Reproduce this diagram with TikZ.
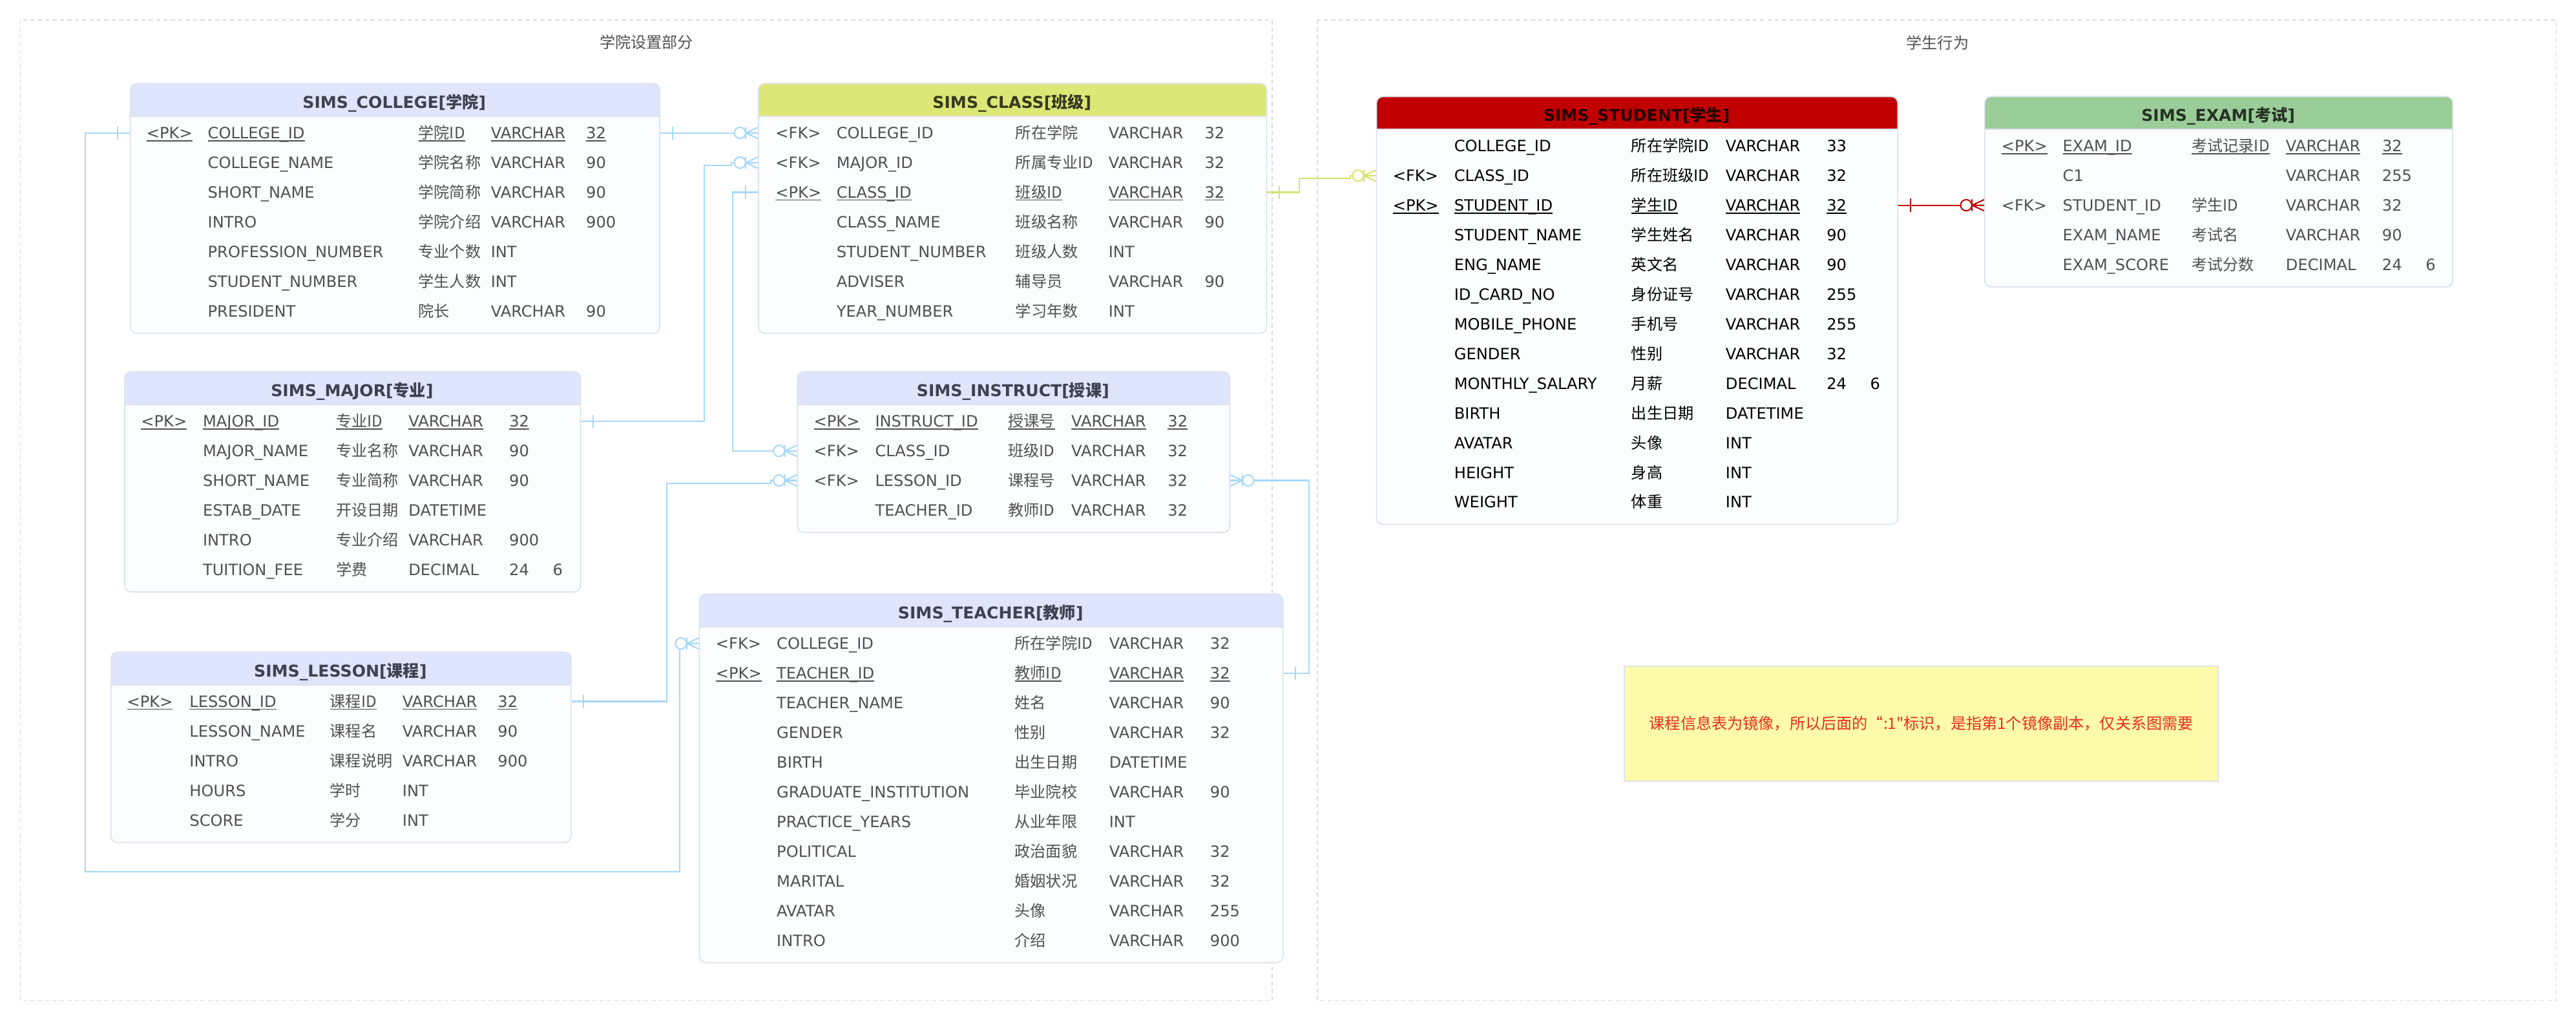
\documentclass[tikz,border=0pt]{standalone}
\usepackage{fontspec}
\setmainfont{DejaVu Sans}
\newfontfamily\cjk{Noto Sans CJK SC}
\usepackage{tikz}

\definecolor{hdrblue}{RGB}{222,229,252}
\definecolor{hdryel}{RGB}{221,231,119}
\definecolor{hdrred}{RGB}{192,0,0}
\definecolor{hdrgreen}{RGB}{155,205,152}
\definecolor{bodyfill}{RGB}{252,253,255}
\definecolor{tblborder}{RGB}{221,226,236}
\definecolor{groupline}{RGB}{214,218,226}
\definecolor{textgray}{RGB}{80,80,80}
\definecolor{titlegray}{RGB}{61,66,80}
\definecolor{relblue}{RGB}{166,216,248}
\definecolor{relyel}{RGB}{214,226,110}
\definecolor{relred}{RGB}{192,0,0}
\definecolor{notefill}{RGB}{253,250,170}
\definecolor{notetext}{RGB}{235,45,30}

\newcommand\rowfont{\fontsize{9.5pt}{11pt}\selectfont}
\newcommand\cols[4]{\def\kw{#1pt}\def\nw{#2pt}\def\cw{#3pt}\def\tw{#4pt}}
\newcommand\ul[1]{\setbox0=\hbox{#1}\rlap{\rule[-1.6pt]{\wd0}{0.7pt}}\box0}
\newcommand\fld[5]{\makebox[\kw][l]{#1}\makebox[\nw][l]{#2}\makebox[\cw][l]{\cjk #3}\makebox[\tw][l]{#4}#5}
\newcommand\pkfld[5]{\fld{\ul{#1}}{\ul{#2}}{\ul{#3}}{\ul{#4}}{\ul{#5}}}
\newcommand\dec[2]{\makebox[26.5pt][l]{#1}#2}

\tikzset{
  tbl/.style={draw=tblborder, fill=bodyfill, line width=0.7pt, rounded corners=4pt,
    inner sep=0pt, anchor=north west,
    path picture={\fill[#1, sharp corners] (path picture bounding box.north west)
      rectangle ([yshift=-20pt]path picture bounding box.north east);
      \draw[tblborder, line width=0.7pt, sharp corners] ([yshift=-20pt]path picture bounding box.north west)
      -- ([yshift=-20pt]path picture bounding box.north east);}},
  hdr/.style={anchor=center, inner sep=0pt, text height=8pt, text depth=1pt,
    font=\fontsize{9.9pt}{11pt}\selectfont\bfseries, text=titlegray},
  row/.style={anchor=west, inner sep=0pt, text height=8pt, text depth=1pt,
    font=\rowfont, text=textgray},
  group/.style={draw=groupline, dash pattern=on 2.5pt off 2pt, line width=0.7pt},
  grouptitle/.style={font=\rowfont\cjk, text=textgray, inner sep=0pt},
  note/.style={draw=tblborder, fill=notefill, text=notetext, line width=0.8pt,
    font=\rowfont\cjk},
  rel/.style={color=relblue, line width=0.8pt},
  relyel/.style={color=relyel, line width=0.8pt},
  relred/.style={color=relred, line width=0.8pt},
  pics/one/.style={code={\draw (7.4,-4) -- (7.4,4);}},
  pics/many/.style={code={
    \draw (-7.4,-3.6) -- (-7.4,3.6) (-7.4,0) -- (0,-3.4) (-7.4,0) -- (0,3.4) (-7.4,0) -- (0,0);
    \draw[fill=white] (-10.9,0) circle[radius=3.4];}}
}

\begin{document}
\begin{tikzpicture}[x=1pt, y=-1pt]
\useasboundingbox (0,0) rectangle (1568,621);

% groups
\draw[group] (12.4,12.1) rectangle (774.3,609);
\draw[group] (801.8,12.2) rectangle (1556,609);
\node (leftT) at (393.5,25.6)[grouptitle] {学院设置部分};
\node (rightT) at (1179.4,26)[grouptitle] {学生行为};

% SIMS_COLLEGE
\node (college) at (79,50.5)[tbl=hdrblue, minimum width=322.2pt, minimum height=152pt] {};
\node (collegeT) at (240,62.5)[hdr] {SIMS\_COLLEGE[{\cjk\bfseries 学院}]};
\cols{37.3}{128.2}{44.1}{58}
\node (co1) at (89,80.9)[row] {\pkfld{<PK>}{COLLEGE\_ID}{学院ID}{VARCHAR}{32}};
\node (co2) at (89,99.0)[row] {\fld{}{COLLEGE\_NAME}{学院名称}{VARCHAR}{90}};
\node (co3) at (89,117.0)[row] {\fld{}{SHORT\_NAME}{学院简称}{VARCHAR}{90}};
\node (co4) at (89,135.1)[row] {\fld{}{INTRO}{学院介绍}{VARCHAR}{900}};
\node (co5) at (89,153.2)[row] {\fld{}{PROFESSION\_NUMBER}{专业个数}{INT}{}};
\node (co6) at (89,171.3)[row] {\fld{}{STUDENT\_NUMBER}{学生人数}{INT}{}};
\node (co7) at (89,189.3)[row] {\fld{}{PRESIDENT}{院长}{VARCHAR}{90}};

% SIMS_CLASS
\node (class) at (461.3,50.5)[tbl=hdryel, minimum width=309.4pt, minimum height=152pt] {};
\node (classT) at (616,62.5)[hdr, text=black!75!hdryel] {SIMS\_CLASS[{\cjk\bfseries 班级}]};
\cols{37.1}{109}{56.6}{58.5}
\node (cl1) at (471.9,80.9)[row] {\fld{<FK>}{COLLEGE\_ID}{所在学院}{VARCHAR}{32}};
\node (cl2) at (471.9,99.0)[row] {\fld{<FK>}{MAJOR\_ID}{所属专业ID}{VARCHAR}{32}};
\node (cl3) at (471.9,117.0)[row] {\pkfld{<PK>}{CLASS\_ID}{班级ID}{VARCHAR}{32}};
\node (cl4) at (471.9,135.1)[row] {\fld{}{CLASS\_NAME}{班级名称}{VARCHAR}{90}};
\node (cl5) at (471.9,153.2)[row] {\fld{}{STUDENT\_NUMBER}{班级人数}{INT}{}};
\node (cl6) at (471.9,171.3)[row] {\fld{}{ADVISER}{辅导员}{VARCHAR}{90}};
\node (cl7) at (471.9,189.3)[row] {\fld{}{YEAR\_NUMBER}{学习年数}{INT}{}};

% SIMS_MAJOR
\node (major) at (75.6,225.9)[tbl=hdrblue, minimum width=277.4pt, minimum height=134pt] {};
\node (majorT) at (214.3,237.9)[hdr] {SIMS\_MAJOR[{\cjk\bfseries 专业}]};
\cols{37.6}{81.1}{44.1}{61.3}
\node (ma1) at (85.7,256.3)[row] {\pkfld{<PK>}{MAJOR\_ID}{专业ID}{VARCHAR}{32}};
\node (ma2) at (85.7,274.4)[row] {\fld{}{MAJOR\_NAME}{专业名称}{VARCHAR}{90}};
\node (ma3) at (85.7,292.4)[row] {\fld{}{SHORT\_NAME}{专业简称}{VARCHAR}{90}};
\node (ma4) at (85.7,310.5)[row] {\fld{}{ESTAB\_DATE}{开设日期}{DATETIME}{}};
\node (ma5) at (85.7,328.6)[row] {\fld{}{INTRO}{专业介绍}{VARCHAR}{900}};
\node (ma6) at (85.7,346.7)[row] {\fld{}{TUITION\_FEE}{学费}{DECIMAL}{\dec{24}{6}}};

% SIMS_INSTRUCT
\node (instruct) at (485.1,225.9)[tbl=hdrblue, minimum width=263.1pt, minimum height=97.8pt] {};
\node (instructT) at (616.6,237.9)[hdr] {SIMS\_INSTRUCT[{\cjk\bfseries 授课}]};
\cols{37.3}{81}{38.4}{58.7}
\node (in1) at (495.2,256.3)[row] {\pkfld{<PK>}{INSTRUCT\_ID}{授课号}{VARCHAR}{32}};
\node (in2) at (495.2,274.4)[row] {\fld{<FK>}{CLASS\_ID}{班级ID}{VARCHAR}{32}};
\node (in3) at (495.2,292.4)[row] {\fld{<FK>}{LESSON\_ID}{课程号}{VARCHAR}{32}};
\node (in4) at (495.2,310.5)[row] {\fld{}{TEACHER\_ID}{教师ID}{VARCHAR}{32}};

% SIMS_LESSON
\node (lesson) at (67.2,396.5)[tbl=hdrblue, minimum width=280pt, minimum height=115.9pt] {};
\node (lessonT) at (207.2,408.5)[hdr] {SIMS\_LESSON[{\cjk\bfseries 课程}]};
\cols{38.1}{85.5}{44.1}{58}
\node (le1) at (77.1,426.9)[row] {\pkfld{<PK>}{LESSON\_ID}{课程ID}{VARCHAR}{32}};
\node (le2) at (77.1,445.0)[row] {\fld{}{LESSON\_NAME}{课程名}{VARCHAR}{90}};
\node (le3) at (77.1,463.0)[row] {\fld{}{INTRO}{课程说明}{VARCHAR}{900}};
\node (le4) at (77.1,481.1)[row] {\fld{}{HOURS}{学时}{INT}{}};
\node (le5) at (77.1,499.2)[row] {\fld{}{SCORE}{学分}{INT}{}};

% SIMS_TEACHER
\node (teacher) at (425.4,361.2)[tbl=hdrblue, minimum width=355.2pt, minimum height=224.3pt] {};
\node (teacherT) at (603,373.2)[hdr] {SIMS\_TEACHER[{\cjk\bfseries 教师}]};
\cols{37.1}{144.9}{57.5}{61.4}
\node (te1) at (435.5,391.6)[row] {\fld{<FK>}{COLLEGE\_ID}{所在学院ID}{VARCHAR}{32}};
\node (te2) at (435.5,409.7)[row] {\pkfld{<PK>}{TEACHER\_ID}{教师ID}{VARCHAR}{32}};
\node (te3) at (435.5,427.7)[row] {\fld{}{TEACHER\_NAME}{姓名}{VARCHAR}{90}};
\node (te4) at (435.5,445.8)[row] {\fld{}{GENDER}{性别}{VARCHAR}{32}};
\node (te5) at (435.5,463.9)[row] {\fld{}{BIRTH}{出生日期}{DATETIME}{}};
\node (te6) at (435.5,481.9)[row] {\fld{}{GRADUATE\_INSTITUTION}{毕业院校}{VARCHAR}{90}};
\node (te7) at (435.5,500.0)[row] {\fld{}{PRACTICE\_YEARS}{从业年限}{INT}{}};
\node (te8) at (435.5,518.1)[row] {\fld{}{POLITICAL}{政治面貌}{VARCHAR}{32}};
\node (te9) at (435.5,536.2)[row] {\fld{}{MARITAL}{婚姻状况}{VARCHAR}{32}};
\node (te10) at (435.5,554.2)[row] {\fld{}{AVATAR}{头像}{VARCHAR}{255}};
\node (te11) at (435.5,572.3)[row] {\fld{}{INTRO}{介绍}{VARCHAR}{900}};

% SIMS_STUDENT
\node (student) at (837.5,58.4)[tbl=hdrred, minimum width=317.3pt, minimum height=260.4pt] {};
\node (studentT) at (996.2,70.4)[hdr, text=black!80!hdrred] {SIMS\_STUDENT[{\cjk\bfseries 学生}]};
\cols{37.4}{107.8}{57.4}{61.5}
\node (st1) at (847.6,88.8)[row, text=black] {\fld{}{COLLEGE\_ID}{所在学院ID}{VARCHAR}{33}};
\node (st2) at (847.6,106.9)[row, text=black] {\fld{<FK>}{CLASS\_ID}{所在班级ID}{VARCHAR}{32}};
\node (st3) at (847.6,124.9)[row, text=black] {\pkfld{<PK>}{STUDENT\_ID}{学生ID}{VARCHAR}{32}};
\node (st4) at (847.6,143.0)[row, text=black] {\fld{}{STUDENT\_NAME}{学生姓名}{VARCHAR}{90}};
\node (st5) at (847.6,161.1)[row, text=black] {\fld{}{ENG\_NAME}{英文名}{VARCHAR}{90}};
\node (st6) at (847.6,179.2)[row, text=black] {\fld{}{ID\_CARD\_NO}{身份证号}{VARCHAR}{255}};
\node (st7) at (847.6,197.2)[row, text=black] {\fld{}{MOBILE\_PHONE}{手机号}{VARCHAR}{255}};
\node (st8) at (847.6,215.3)[row, text=black] {\fld{}{GENDER}{性别}{VARCHAR}{32}};
\node (st9) at (847.6,233.4)[row, text=black] {\fld{}{MONTHLY\_SALARY}{月薪}{DECIMAL}{\dec{24}{6}}};
\node (st10) at (847.6,251.4)[row, text=black] {\fld{}{BIRTH}{出生日期}{DATETIME}{}};
\node (st11) at (847.6,269.5)[row, text=black] {\fld{}{AVATAR}{头像}{INT}{}};
\node (st12) at (847.6,287.6)[row, text=black] {\fld{}{HEIGHT}{身高}{INT}{}};
\node (st13) at (847.6,305.6)[row, text=black] {\fld{}{WEIGHT}{体重}{INT}{}};

% SIMS_EXAM
\node (exam) at (1207.7,58.4)[tbl=hdrgreen, minimum width=284.9pt, minimum height=115.9pt] {};
\node (examT) at (1350.2,70.4)[hdr, text=black!75!hdrgreen] {SIMS\_EXAM[{\cjk\bfseries 考试}]};
\cols{37.3}{78.5}{57.3}{58.6}
\node (ex1) at (1218.1,88.8)[row] {\pkfld{<PK>}{EXAM\_ID}{考试记录ID}{VARCHAR}{32}};
\node (ex2) at (1218.1,106.9)[row] {\fld{}{C1}{}{VARCHAR}{255}};
\node (ex3) at (1218.1,124.9)[row] {\fld{<FK>}{STUDENT\_ID}{学生ID}{VARCHAR}{32}};
\node (ex4) at (1218.1,143.0)[row] {\fld{}{EXAM\_NAME}{考试名}{VARCHAR}{90}};
\node (ex5) at (1218.1,161.1)[row] {\fld{}{EXAM\_SCORE}{考试分数}{DECIMAL}{\dec{24}{6}}};

% note
\node (note) at (1169.5,440.4)[note, minimum width=361.3pt, minimum height=70pt] {课程信息表为镜像，所以后面的“:1"标识，是指第1个镜像副本，仅关系图需要};

% relations
\draw[rel] (college.east |- co1) -- (class.west |- cl1);
\pic[rel] at (college.east |- co1) {one};
\pic[rel] at (class.west |- cl1) {many};

\draw[rel] (major.east |- ma1) -| (428.6,100.6) -- (445,100.6) |- (class.west |- cl2);
\pic[rel] at (major.east |- ma1) {one};
\pic[rel] at (class.west |- cl2) {many};

\draw[rel] (class.west |- cl3) -- ++(-15.4,0) |- (instruct.west |- in2);
\pic[rel, rotate=180] at (class.west |- cl3) {one};
\pic[rel] at (instruct.west |- in2) {many};

\draw[rel] (lesson.east |- le1) -| (405.8,294.2) -- (469.1,294.2) |- (instruct.west |- in3);
\pic[rel] at (lesson.east |- le1) {one};
\pic[rel] at (instruct.west |- in3) {many};

\draw[rel] (instruct.east |- in3) -| ([xshift=15.6pt]teacher.east |- te2) -- (teacher.east |- te2);
\pic[rel, rotate=180] at (instruct.east |- in3) {many};
\pic[rel] at (teacher.east |- te2) {one};

\draw[rel] (college.west |- co1) -| (52,530.6) -| ([xshift=-11.7pt]teacher.west |- te1);
\pic[rel, rotate=180] at (college.west |- co1) {one};
\pic[rel] at (teacher.west |- te1) {many};

\draw[relyel] (class.east |- cl3) -- ++(19.3,0) |- (822,108.5) |- (student.west |- st2);
\pic[relyel] at (class.east |- cl3) {one};
\pic[relyel] at (student.west |- st2) {many};

\draw[relred] (student.east |- st3) -- (exam.west |- ex3);
\pic[relred] at (student.east |- st3) {one};
\pic[relred] at (exam.west |- ex3) {many};
\end{tikzpicture}
\end{document}
